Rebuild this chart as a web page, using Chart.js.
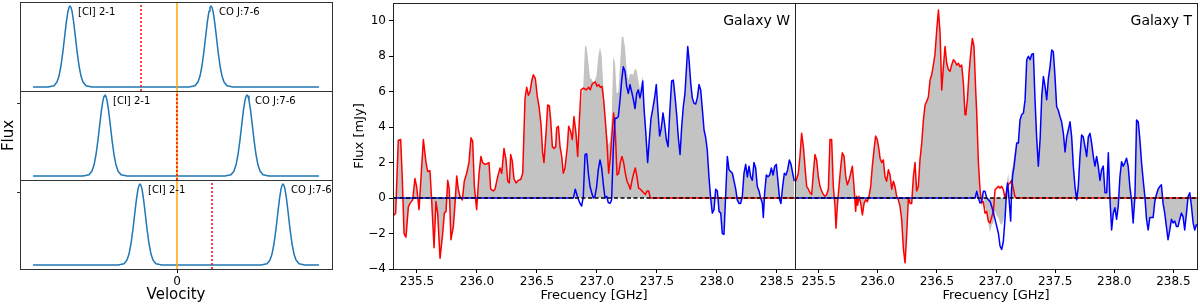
<!DOCTYPE html>
<html>
<head>
<meta charset="utf-8">
<script src="https://cdn.jsdelivr.net/npm/chart.js@4.4.0/dist/chart.umd.min.js"></script>
<style>
  html, body { margin: 0; padding: 0; background: #fff; width: 1200px; height: 307px; overflow: hidden; }
  canvas { position: absolute; }
</style>
</head>
<body>
<canvas id="p1" width="340" height="95" style="left:0;top:0"></canvas>
<canvas id="p2" width="340" height="97" style="left:0;top:87px"></canvas>
<canvas id="p3" width="340" height="131" style="left:0;top:176px"></canvas>
<canvas id="specW" width="470" height="307" style="left:330px;top:0"></canvas>
<canvas id="specT" width="405" height="307" style="left:795px;top:0"></canvas>
<script>
// ---------- left: sketch of the two lines in three redshift cases ----------
const lineNames = ['[CI] 2-1', 'CO J:7-6'];
const ciCentre = [-107, -72, -37];
const coCentre = [34, 70, 106];
const redMarker = [-36, 0, 35];
const labelShift = 8;
const velMin = -157, velMax = 155;
const baseStart = -144, baseEnd = 142;
const sketchYMin = -0.05, sketchYMax = 1.05;
// shape of one line profile (offset from centre, relative flux)
const profileOffset = [-22, -16, -13, -11, -9, -7, -5, -3.5, -2, -1, 0, 1, 2, 3.5, 5, 7, 9, 11, 13, 16, 22];
const profileFlux = [0, 0.015, 0.061, 0.135, 0.262, 0.445, 0.662, 0.817, 0.936, 0.984, 1, 0.984, 0.936, 0.817, 0.662, 0.445, 0.262, 0.135, 0.061, 0.015, 0];

// ---------- right: spectra ----------
const xTicks = [235.5, 236.0, 236.5, 237.0, 237.5, 238.0, 238.5];
const yTicks = [-4, -2, 0, 2, 4, 6, 8, 10];

// Galaxy W  [frequency GHz, flux mJy]
const wRed = [
  [235.303,-1.0],[235.322,-0.85],[235.344,3.25],[235.364,3.3],[235.378,1.0],[235.392,-2.0],[235.408,-2.2],
  [235.428,-0.5],[235.442,-0.3],[235.464,-0.1],[235.483,1.1],[235.497,0.65],[235.517,-0.65],[235.553,3.3],
  [235.575,2.0],[235.589,1.5],[235.608,1.55],[235.622,-0.1],[235.642,-2.8],[235.658,-0.2],[235.672,-0.85],
  [235.692,-3.4],[235.714,-2.0],[235.728,-0.85],[235.742,-0.75],[235.756,1.0],[235.769,0.5],[235.783,-2.35],
  [235.803,-1.6],[235.817,-0.3],[235.831,1.25],[235.844,0.5],[235.858,0.1],[235.878,-0.1],[235.894,0.95],
  [235.914,1.4],[235.933,2.0],[235.950,3.4],[235.964,3.2],[235.978,0.65],[235.997,-0.65],[236.017,1.4],
  [236.033,2.35],[236.047,2.0],[236.067,1.9],[236.086,1.95],[236.100,2.0],[236.114,0.5],[236.136,0.4],
  [236.150,0.5],[236.169,1.1],[236.192,1.7],[236.206,1.4],[236.225,2.8],[236.242,2.15],[236.256,0.95],
  [236.269,0.85],[236.281,2.45],[236.294,2.1],[236.308,1.1],[236.325,0.85],[236.344,1.0],[236.364,1.05],
  [236.381,1.4],[236.400,5.6],[236.414,6.25],[236.428,5.8],[236.442,6.0],[236.456,6.6],[236.469,6.95],
  [236.486,6.75],[236.503,5.7],[236.517,5.15],[236.533,4.2],[236.547,2.55],[236.558,2.0],[236.575,3.65],
  [236.589,5.25],[236.603,5.2],[236.614,4.4],[236.628,2.9],[236.642,2.8],[236.656,2.9],[236.664,3.95],
  [236.678,4.05],[236.692,2.9],[236.706,2.35],[236.719,1.4],[236.733,1.7],[236.753,2.9],[236.764,4.05],
  [236.781,3.75],[236.794,3.3],[236.808,4.6],[236.825,3.65],[236.839,2.35],[236.853,4.4],[236.867,6.1],
  [236.888,6.2],[236.910,6.1],[236.930,6.25],[236.944,6.1],[236.958,6.4],[236.972,6.5],[236.986,6.55],
  [237.000,6.3],[237.014,6.4],[237.028,6.25],[237.042,6.3],[237.056,5.5],[237.069,4.4],[237.083,3.1],
  [237.097,1.4],[237.111,2.25],[237.125,3.6],[237.139,4.8],[237.153,3.65],[237.167,1.3],[237.181,1.4],
  [237.194,2.0],[237.208,2.35],[237.222,2.0],[237.236,1.4],[237.250,0.95],[237.264,0.75],[237.278,0.5],
  [237.292,1.0],[237.306,1.4],[237.319,1.7],[237.333,1.2],[237.347,0.55],[237.361,0.5],[237.375,0.4],
  [237.389,0.3],[237.403,0.2],[237.417,0.4],[237.431,0.4],[237.444,0.0],[238.65,0]
];
const wBlue = [
  [235.3,0],[236.803,0],[236.819,0.5],[236.836,0.1],[236.858,-0.3],[236.872,-0.45],[236.886,0.1],
  [236.900,2.45],[236.914,2.5],[236.928,1.4],[236.942,0.65],[236.956,0.3],[236.969,0.0],[236.983,0.1],
  [236.997,0.65],[237.011,1.6],[237.025,2.15],[237.039,1.7],[237.053,0.75],[237.067,0.0],[237.081,0.1],
  [237.094,-0.25],[237.108,-0.3],[237.122,-0.1],[237.136,2.8],[237.150,4.5],[237.164,4.5],[237.178,4.6],
  [237.192,5.55],[237.206,6.65],[237.219,7.4],[237.233,7.15],[237.247,6.3],[237.261,5.9],[237.275,6.4],
  [237.289,6.0],[237.303,5.55],[237.317,5.05],[237.331,5.9],[237.344,6.1],[237.358,5.65],[237.372,6.1],
  [237.381,6.6],[237.392,5.05],[237.406,3.75],[237.422,2.0],[237.436,3.3],[237.450,4.5],[237.464,5.0],
  [237.481,5.7],[237.494,6.4],[237.508,4.9],[237.522,3.5],[237.536,3.95],[237.550,4.8],[237.564,4.15],
  [237.578,3.3],[237.592,2.9],[237.606,4.8],[237.622,6.6],[237.636,6.65],[237.650,5.75],[237.664,4.7],
  [237.678,3.4],[237.692,2.45],[237.706,4.05],[237.719,5.15],[237.733,5.9],[237.747,7.5],[237.756,8.55],
  [237.767,7.8],[237.781,6.5],[237.794,5.65],[237.808,5.35],[237.822,5.3],[237.836,5.65],[237.850,6.4],
  [237.864,6.1],[237.878,5.0],[237.892,3.85],[237.906,3.4],[237.919,2.7],[237.933,1.2],[237.947,0.0],
  [237.961,-0.85],[237.975,-0.65],[237.989,0.5],[238.003,0.4],[238.017,-0.75],[238.031,-0.85],[238.044,-2.0],
  [238.058,-2.05],[238.072,0.1],[238.086,2.35],[238.100,1.6],[238.114,1.5],[238.128,1.4],[238.142,0.95],
  [238.156,0.5],[238.169,-0.1],[238.183,-0.3],[238.197,-0.3],[238.211,0.1],[238.225,1.4],[238.239,1.9],
  [238.253,1.2],[238.267,1.8],[238.281,1.2],[238.294,1.0],[238.308,2.0],[238.322,1.7],[238.336,0.65],
  [238.350,0.4],[238.364,0.0],[238.378,-0.3],[238.386,-1.1],[238.397,0.3],[238.411,1.3],[238.425,1.2],
  [238.439,1.3],[238.453,1.7],[238.467,1.3],[238.481,1.8],[238.494,1.9],[238.508,0.95],[238.522,-0.1],
  [238.533,-0.3],[238.547,0.65],[238.561,1.4],[238.575,1.3],[238.589,1.6],[238.603,2.15],[238.617,1.9],
  [238.631,1.4],[238.644,0.95]
];
// total flux where both components overlap
const wGreyMid = [
  [236.872,5.6],[236.886,6.3],[236.900,8.6],[236.914,8.5],[236.928,7.65],[236.942,6.75],[236.956,6.7],
  [236.969,6.5],[236.983,6.65],[236.997,6.95],[237.011,8.0],[237.025,8.5],[237.039,8.0],[237.053,6.25],
  [237.067,4.4],[237.081,3.8],[237.094,3.0],[237.108,3.2],[237.122,4.5],[237.136,8.0],[237.150,7.6],
  [237.164,5.9],[237.178,6.0],[237.192,7.5],[237.206,9.1],[237.219,9.1],[237.233,8.5],[237.247,7.25],
  [237.261,6.65],[237.275,7.0],[237.289,7.0],[237.303,6.95],[237.317,7.3],[237.331,7.2],[237.344,6.65],
  [237.358,6.15],[237.372,6.5],[237.381,6.9],[237.392,5.3],[237.406,4.0],[237.422,2.4],[237.436,3.7],
  [237.450,4.5]
];

// Galaxy T
const tRed = [
  [235.308,0.95],[235.328,1.4],[235.342,2.35],[235.356,3.65],[235.371,2.9],[235.385,1.7],[235.399,0.65],
  [235.413,0.5],[235.427,0.3],[235.441,0.2],[235.455,1.4],[235.469,2.45],[235.483,2.15],[235.497,1.2],
  [235.512,0.65],[235.526,0.4],[235.540,0.2],[235.554,0.1],[235.568,0.2],[235.582,0.5],[235.596,3.3],
  [235.610,3.3],[235.624,0.65],[235.638,-0.45],[235.647,-1.7],[235.658,-0.45],[235.672,0.65],[235.686,1.7],
  [235.700,2.55],[235.715,2.35],[235.729,1.2],[235.743,0.75],[235.757,1.0],[235.771,1.4],[235.785,1.8],
  [235.799,0.65],[235.813,-0.75],[235.822,0.1],[235.830,-0.4],[235.841,0.1],[235.856,-0.3],[235.870,-0.95],
  [235.884,-0.3],[235.898,-0.1],[235.912,-0.2],[235.926,0.1],[235.940,0.65],[235.954,1.8],[235.968,2.7],
  [235.982,3.5],[235.996,3.3],[236.011,2.7],[236.019,2.25],[236.033,2.0],[236.047,2.15],[236.061,1.2],
  [236.075,0.95],[236.090,1.6],[236.104,1.3],[236.118,0.5],[236.132,0.95],[236.146,0.65],[236.160,0.1],
  [236.174,-0.1],[236.188,-0.45],[236.202,-1.2],[236.217,-2.9],[236.231,-3.65],[236.245,-2.0],[236.259,0],
  [236.273,-0.3],[236.287,-0.3],[236.301,1.2],[236.315,2.0],[236.329,0.4],[236.343,0.65],[236.357,2.15],
  [236.372,3.1],[236.386,4.4],[236.400,5.25],[236.414,5.45],[236.428,5.7],[236.442,6.65],[236.456,6.95],
  [236.470,7.5],[236.484,8.1],[236.499,9.5],[236.513,10.6],[236.527,9.3],[236.541,6.1],[236.555,7.4],
  [236.569,8.55],[236.583,7.6],[236.597,7.25],[236.611,7.15],[236.625,7.5],[236.640,7.8],[236.654,7.7],
  [236.668,7.5],[236.682,7.6],[236.696,7.4],[236.710,7.5],[236.724,6.5],[236.738,4.7],[236.746,4.8],
  [236.758,5.55],[236.772,7.05],[236.786,8.15],[236.800,9.0],[236.814,8.55],[236.828,6.1],[236.837,4.8],
  [236.851,2.0],[236.865,0.47],[236.879,-0.28],[236.893,-0.2],[236.907,-0.85],[236.921,-0.75],[236.935,-1.3],
  [236.950,-1.4],[236.964,-1.05],[236.978,-0.75],[236.992,0.47],[237.006,0.56],[237.020,0.66],[237.034,0.56],
  [237.048,0.66],[237.062,0.47],[237.076,0],[237.090,0.38],[237.104,0.75],[237.118,0.85],[237.132,1.0],
  [237.146,0.55],[237.160,0.1],[237.170,0],[238.7,0]
];
const tBlue = [
  [235.3,0],[236.823,0],[236.837,0.38],[236.851,0],[236.865,-0.28],[236.879,-0.2],[236.893,0.38],
  [236.907,0.38],[236.921,0],[236.935,-0.1],[236.950,-0.2],[236.964,-0.47],[236.978,-0.85],[236.992,-1.2],
  [237.006,-1.6],[237.020,-1.97],[237.034,-2.7],[237.048,-2.9],[237.062,-2.45],[237.076,-1.2],[237.090,0.47],
  [237.098,0.85],[237.113,-0.28],[237.124,-1.3],[237.132,0.47],[237.141,1.3],[237.153,1.8],[237.175,3.1],
  [237.189,3.1],[237.203,4.4],[237.217,4.7],[237.232,4.8],[237.246,5.55],[237.260,7.8],[237.274,8.0],
  [237.288,7.8],[237.302,8.1],[237.316,8.15],[237.330,5.55],[237.344,3.4],[237.358,1.8],[237.373,3.3],
  [237.387,5.75],[237.401,6.85],[237.415,6.3],[237.429,5.55],[237.443,6.75],[237.457,7.4],[237.471,8.35],
  [237.485,8.25],[237.499,6.85],[237.513,5.15],[237.527,4.95],[237.541,4.6],[237.555,4.3],[237.570,3.65],
  [237.584,2.6],[237.598,3.45],[237.612,3.85],[237.626,4.3],[237.640,3.45],[237.654,1.8],[237.668,0.65],
  [237.682,-0.1],[237.696,0.65],[237.710,2.35],[237.724,3.55],[237.738,3.45],[237.753,2.9],[237.767,2.35],
  [237.781,3.45],[237.795,3.65],[237.809,3.1],[237.823,2.35],[237.837,1.8],[237.851,2.35],[237.865,1.8],
  [237.879,1.0],[237.893,1.6],[237.907,1.8],[237.922,0.3],[237.936,0.3],[237.950,2.55],[237.964,-0.1],
  [237.978,-1.8],[237.992,-0.85],[238.006,-0.55],[238.020,-1.2],[238.034,-0.45],[238.048,1.2],[238.062,2.05],
  [238.076,1.8],[238.090,2.0],[238.104,2.25],[238.118,1.8],[238.132,0.65],[238.146,-0.1],[238.160,-1.4],
  [238.175,0.1],[238.189,4.4],[238.203,4.3],[238.217,3.3],[238.231,2.0],[238.245,1.0],[238.259,0.1],
  [238.273,-1.2],[238.287,-1.8],[238.301,-1.1],[238.315,-1.1],[238.329,-1.1],[238.343,-0.2],[238.357,0.2],
  [238.371,0.5],[238.385,0.65],[238.399,0.75],[238.413,-0.3],[238.427,-0.85],[238.441,-1.6],[238.455,-2.35],
  [238.470,-1.8],[238.484,-1.2],[238.498,-1.4],[238.512,-1.3],[238.526,-1.6],[238.540,-1.6],[238.554,-1.2],
  [238.568,-0.85],[238.582,-1.05],[238.596,-1.8],[238.611,-0.85],[238.625,0.1],[238.639,0.3],[238.653,-0.45],
  [238.667,-1.4],[238.681,-1.8],[238.695,-1.5],[238.709,-1.6]
];
const tGreyMid = [
  [236.823,6.5],[236.837,5.2],[236.851,2.0],[236.865,0.2],[236.879,-0.5],[236.893,0.2],[236.907,-0.5],
  [236.921,-0.75],[236.935,-1.4],[236.950,-1.95],[236.964,-1.5],[236.978,-1.4],[236.992,-0.75],[237.006,-1.0],
  [237.020,-1.1],[237.034,-1.4],[237.048,-1.5],[237.062,-1.3],[237.076,-1.0],[237.090,0.85],[237.104,1.4],
  [237.118,0.0],[237.132,1.5],[237.146,2.0],[237.160,2.6]
];

Chart.defaults.font.family = "'DejaVu Sans', sans-serif";
Chart.defaults.color = '#000';

const pts = rows => rows.map(([x, y]) => ({x, y}));
const minus = v => (v < 0 ? '\u2212' + Math.abs(v) : String(v));

const framePlugin = color => ({
  id: 'frame',
  afterDraw(chart) {
    const {ctx, chartArea: a} = chart;
    ctx.save();
    ctx.strokeStyle = color;
    ctx.lineWidth = 1;
    ctx.strokeRect(Math.round(a.left) + 0.5, Math.round(a.top) + 0.5, Math.round(a.width), Math.round(a.height));
    ctx.restore();
  }
});

// keep chart areas exactly where the layout puts them
const noEdgePadding = s => { s.paddingTop = 0; s.paddingBottom = 0; s.paddingLeft = 0; s.paddingRight = 0; };

// ---- sketch panels ----
function sketchPanel(id, i, opts) {
  const profile = [[baseStart, 0]];
  [ciCentre[i], coCentre[i]].forEach(c => {
    profileOffset.forEach((d, k) => profile.push([c + d, profileFlux[k]]));
  });
  profile.push([baseEnd, 0]);

  const labels = {
    id: 'lineLabels',
    afterDatasetsDraw(chart) {
      const {ctx, scales: {x}, chartArea: a} = chart;
      ctx.save();
      ctx.font = "10px 'DejaVu Sans'";
      ctx.fillStyle = '#000';
      ctx.textBaseline = 'middle';
      ctx.fillText(lineNames[0], x.getPixelForValue(ciCentre[i] + labelShift), a.top + 10);
      ctx.fillText(lineNames[1], x.getPixelForValue(coCentre[i] + labelShift), a.top + 10);
      ctx.restore();
    }
  };

  return new Chart(document.getElementById(id), {
    type: 'line',
    data: {
      datasets: [
        { data: [{x: redMarker[i], y: sketchYMin}, {x: redMarker[i], y: sketchYMax}],
          borderColor: '#ff0000', borderWidth: 1.5, borderDash: [2, 2], order: 1 },
        { data: [{x: 0, y: sketchYMin}, {x: 0, y: sketchYMax}],
          borderColor: '#ffa500', borderWidth: 1.5, order: 2 },
        { data: pts(profile), borderColor: '#1f77b4', borderWidth: 1.5, order: 3 }
      ]
    },
    options: {
      responsive: false, animation: false, devicePixelRatio: 1,
      elements: { point: { radius: 0 }, line: { tension: 0, borderJoinStyle: 'round' } },
      plugins: { legend: { display: false }, tooltip: { enabled: false } },
      layout: { padding: { top: opts.padTop, bottom: opts.padBottom, left: 0, right: 8 } },
      scales: {
        x: {
          type: 'linear', min: velMin, max: velMax,
          display: opts.showX,
          afterBuildTicks: s => { s.ticks = [{value: 0}]; },
          afterFit: s => { if (opts.showX) { s.height = 38; noEdgePadding(s); } },
          grid: { drawOnChartArea: false, drawTicks: true, tickLength: 4, tickColor: '#000' },
          border: { display: false },
          ticks: { font: { size: 12 }, padding: 2, callback: v => String(v) },
          title: { display: opts.showX, text: 'Velocity', font: { size: 15 }, padding: { top: 0, bottom: 3 } }
        },
        y: {
          min: sketchYMin, max: sketchYMax,
          afterBuildTicks: s => { s.ticks = opts.yTick ? [{value: 0.9}] : []; },
          afterFit: s => { s.width = 20; noEdgePadding(s); },
          grid: { drawOnChartArea: false, drawTicks: true, tickLength: 3, tickColor: '#333' },
          border: { display: false },
          ticks: { display: false },
          title: { display: opts.showTitle, text: 'Flux', font: { size: 15 }, padding: 0 }
        }
      }
    },
    plugins: [framePlugin('#333'), labels]
  });
}

sketchPanel('p1', 0, { padTop: 2, padBottom: 4, showX: false, yTick: false, showTitle: false });
sketchPanel('p2', 1, { padTop: 4, padBottom: 4, showX: false, yTick: true, showTitle: true });
sketchPanel('p3', 2, { padTop: 4, padBottom: 0, showX: true, yTick: true, showTitle: false });

// ---- spectra ----
function spectrum(id, red, blue, grey, xMax, showY, name, padRight) {
  const nameLabel = {
    id: 'galaxyName',
    afterDraw(chart) {
      const {ctx, chartArea: a} = chart;
      ctx.save();
      ctx.font = "14px 'DejaVu Sans'";
      ctx.fillStyle = '#000';
      ctx.textAlign = 'right';
      ctx.textBaseline = 'middle';
      ctx.fillText(name, a.right - 5, a.top + 18);
      ctx.restore();
    }
  };
  return new Chart(document.getElementById(id), {
    type: 'line',
    data: {
      datasets: [
        { data: [{x: 235.3, y: 0}, {x: xMax, y: 0}], borderColor: '#000', borderWidth: 1.5,
          borderDash: [4, 2.5], order: 1 },
        { data: pts(blue), borderColor: '#0000ff', borderWidth: 1.5, order: 2 },
        { data: pts(red), borderColor: '#ff0000', borderWidth: 1.5, order: 3 },
        { data: pts(grey), borderWidth: 0, borderColor: 'rgba(0,0,0,0)', backgroundColor: '#c3c3c3',
          fill: 'origin', order: 4 }
      ]
    },
    options: {
      responsive: false, animation: false, devicePixelRatio: 1,
      elements: { point: { radius: 0 }, line: { tension: 0, borderJoinStyle: 'round' } },
      plugins: { legend: { display: false }, tooltip: { enabled: false } },
      layout: { padding: { top: 3, bottom: 0, left: 0, right: padRight } },
      scales: {
        x: {
          type: 'linear', min: 235.3, max: xMax,
          afterBuildTicks: s => { s.ticks = xTicks.map(v => ({value: v})); },
          afterFit: s => { s.height = 38; noEdgePadding(s); },
          grid: { drawOnChartArea: false, drawTicks: true, tickLength: 4, tickColor: '#000' },
          border: { display: false },
          ticks: { font: { size: 12 }, padding: 2, maxRotation: 0, callback: v => v.toFixed(1) },
          title: { display: true, text: 'Frecuency [GHz]', font: { size: 13 }, padding: { top: 0, bottom: 4 } }
        },
        y: {
          display: showY,
          min: -4, max: 11,
          afterBuildTicks: s => { s.ticks = yTicks.map(v => ({value: v})); },
          afterFit: s => { if (showY) { s.width = 63; noEdgePadding(s); } },
          grid: { drawOnChartArea: false, drawTicks: true, tickLength: 4, tickColor: '#000' },
          border: { display: false },
          ticks: { font: { size: 12 }, padding: 3, callback: v => minus(v) },
          title: { display: true, text: 'Flux [mJy]', font: { size: 13 }, padding: { top: 22, bottom: 0 } }
        }
      }
    },
    plugins: [framePlugin('#222'), nameLabel]
  });
}

const wGrey = wRed.filter(p => p[0] < 236.86).concat(wGreyMid, wBlue.filter(p => p[0] > 237.455));
const tGrey = tRed.filter(p => p[0] < 236.82).concat(tGreyMid, tBlue.filter(p => p[0] > 237.165));

spectrum('specW', wRed, wBlue, wGrey, 238.65, true, 'Galaxy W', 5);
spectrum('specT', tRed, tBlue, tGrey, 238.7, false, 'Galaxy T', 3);
</script>
</body>
</html>
